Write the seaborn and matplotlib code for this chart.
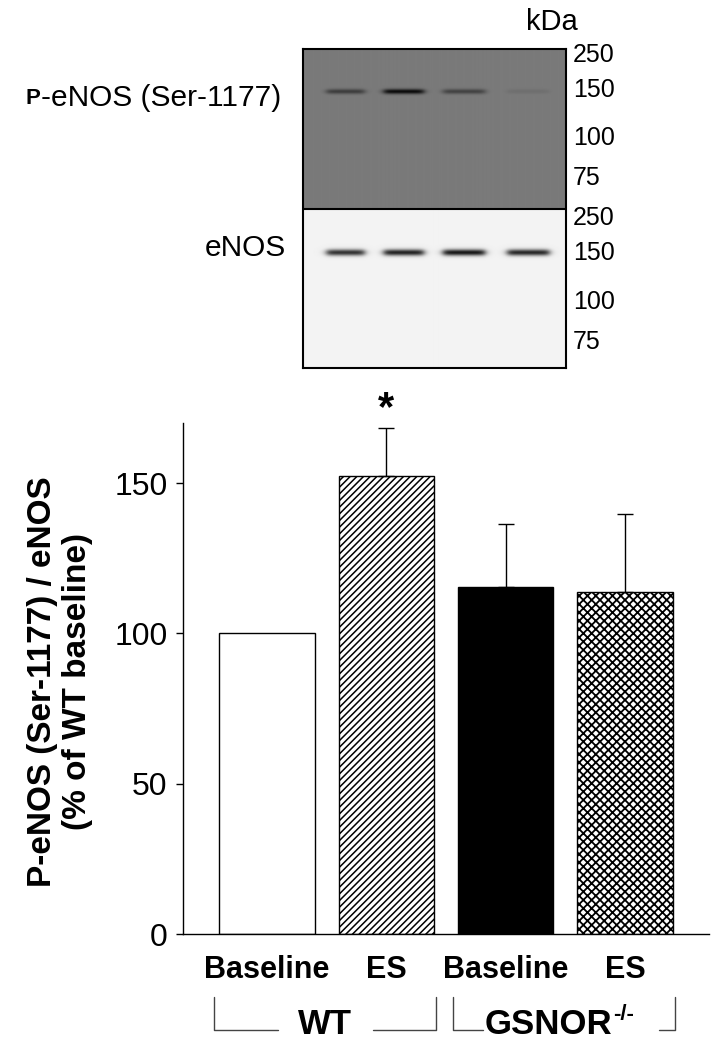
import numpy as np
import pandas as pd
import matplotlib
matplotlib.use("Agg")
import matplotlib.pyplot as plt
import matplotlib.transforms as mtransforms
import seaborn as sns

# -------------------------------------------------------------
# data
# -------------------------------------------------------------
groups = ["WT", "WT", "GSNOR", "GSNOR"]
conditions = ["Baseline", "ES", "Baseline", "ES"]
ratio_pct = [100.0, 152.3, 115.4, 113.7]      # P-eNOS / eNOS, % of WT baseline
sem_pct = [0.0, 16.0, 21.0, 26.0]
significant = [False, True, False, False]
y_ticks = [0, 50, 100, 150]

# western blot: relative band darkness per lane
peNOS_band = [0.55, 1.0, 0.50, 0.10]
eNOS_band = [0.85, 0.92, 0.97, 0.90]
kda_markers = ["250", "150", "100", "75"]

# styling
bar_faces = ["white", "white", "black", "white"]
bar_hatches = ["", "/////", "", "xxxx"]
hatch_lw = [1.1, 1.1, 1.0, 1.3]

W, H = 718, 1050
def fx(x):
    return x / W
def fy(y):
    return 1 - y / H

sns.set_style("ticks")
plt.rcParams["font.family"] = ["Liberation Sans", "DejaVu Sans"]
plt.rcParams["text.color"] = "black"
plt.rcParams["axes.labelcolor"] = "black"
plt.rcParams["xtick.color"] = "black"
plt.rcParams["ytick.color"] = "black"
plt.rcParams["hatch.linewidth"] = 1.0

fig = plt.figure(figsize=(W / 100, H / 100), dpi=100)

# =============================================================
# bar chart
# =============================================================
ax = fig.add_axes([fx(183), fy(934), fx(709) - fx(183), (934 - 423) / H])

df = pd.DataFrame({"group": groups, "condition": conditions,
                   "ratio": ratio_pct, "sem": sem_pct})
df["key"] = df["group"] + " " + df["condition"]

sns.barplot(data=df, x="key", y="ratio", order=list(df["key"]),
            color="white", edgecolor="black", linewidth=1.0,
            width=0.8, errorbar=None, ax=ax)

for patch, fc, h, hl in zip(ax.patches, bar_faces, bar_hatches, hatch_lw):
    patch.set_facecolor(fc)
    patch.set_hatch(h)
    patch.set_edgecolor("black")
    if hasattr(patch, "set_hatch_linewidth"):
        patch.set_hatch_linewidth(hl)

xpos = np.arange(len(df))
has_err = df["sem"] > 0
ax.errorbar(xpos[has_err], df["ratio"][has_err],
            yerr=[np.zeros(has_err.sum()), df["sem"][has_err]],
            fmt="none", ecolor="black", elinewidth=1.0, capsize=6, capthick=1.0)

for i, sig in enumerate(significant):
    if sig:
        ax.annotate("*", (xpos[i], df["ratio"][i] + df["sem"][i]),
                    xytext=(0, -1), textcoords="offset points",
                    ha="center", va="bottom", fontsize=30, fontweight="bold",
                    annotation_clip=False)

ax.set_xlim(-0.704, 3.705)
ax.set_ylim(0, 170)
ax.set_yticks(y_ticks)
ax.set_xticks(xpos)
ax.set_xticklabels(df["condition"], fontsize=22, fontweight="bold")
ax.tick_params(axis="x", length=0, pad=15)
ax.tick_params(axis="y", length=5, width=1.0, labelsize=23, pad=6)
ax.set_xlabel("")
ax.set_ylabel("P-eNOS (Ser-1177) / eNOS\n(% of WT baseline)",
              fontsize=24, fontweight="bold", linespacing=1.15)
ax.yaxis.set_label_coords(fx(93), fy(682), transform=fig.transFigure)
sns.despine(ax=ax)
for s in ["left", "bottom"]:
    ax.spines[s].set_linewidth(1.0)
    ax.spines[s].set_color("black")

# group brackets under the tick labels
trans = mtransforms.blended_transform_factory(ax.transData, fig.transFigure)
y_top, y_bot, y_txt = fy(997), fy(1030), fy(1025)
bracket_specs = [("WT", "", 0, 1, 0.40, 0.40, 0.0),
                 ("GSNOR", "-/-", 2, 3, 0.68, 0.80, -0.13)]
fig.canvas.draw()
renderer = fig.canvas.get_renderer()
for name, sup, i0, i1, gap_l, gap_r, shift in bracket_specs:
    x0 = xpos[i0] - 0.44
    x1 = xpos[i1] + 0.42
    xc = (x0 + x1) / 2
    ax.plot([x0, x0, xc - gap_l], [y_top, y_bot, y_bot], color="#444444",
            lw=1.0, transform=trans, clip_on=False)
    ax.plot([xc + gap_r, x1, x1], [y_bot, y_bot, y_top], color="#444444",
            lw=1.0, transform=trans, clip_on=False)
    t = ax.text(xc + shift, y_txt, name, transform=trans, ha="center",
                va="center", fontsize=25, fontweight="bold")
    if sup:
        bb = t.get_window_extent(renderer=renderer)
        fig.text(bb.x1 / W + 0.001, fy(1014), sup, ha="left", va="center",
                 fontsize=16, fontweight="bold")

# =============================================================
# western blot panel
# =============================================================
bw, bh = 263, 319
bax = fig.add_axes([fx(303), fy(368), bw / W, bh / H])
yy, xx = np.mgrid[0:bh, 0:bw]
split = 160
img = np.where(yy < split, 0.48, 0.95).astype(float)

lane_x = [42, 100, 160, 224]
lane_hw = [19, 20, 21, 21]

def add_bands(img, levels, cy, sy, strength):
    for cx, hw, lev in zip(lane_x, lane_hw, levels):
        px = 1 / (1 + np.exp((np.abs(xx - cx) - hw) / 2.0))
        py = np.exp(-0.5 * ((yy - cy) / sy) ** 2)
        img = img * (1 - strength * lev * px * py)
    return img

img = add_bands(img, peNOS_band, 42, 1.8, 0.9)
img = add_bands(img, eNOS_band, 203, 2.3, 0.92)

bax.imshow(img, cmap="gray", vmin=0, vmax=1, extent=(0, bw, bh, 0),
           aspect="auto", interpolation="bilinear")
bax.axhline(split, color="black", lw=1.5)
bax.set_xlim(0, bw)
bax.set_ylim(bh, 0)
bax.set_xticks([])
bax.set_yticks([])
for s in bax.spines.values():
    s.set_visible(True)
    s.set_linewidth(1.5)
    s.set_color("black")

marker_y = [55, 90, 138, 178, 218, 253, 302, 342]
for lab, y in zip(kda_markers * 2, marker_y):
    fig.text(fx(573), fy(y), lab, ha="left", va="center", fontsize=18)
fig.text(fx(552), fy(22), "kDa", ha="center", va="center", fontsize=21)

t1 = fig.text(fx(281), fy(98), "-eNOS (Ser-1177)", ha="right", va="center",
              fontsize=21.5)
fig.canvas.draw()
bb = t1.get_window_extent(renderer=fig.canvas.get_renderer())
fig.text(bb.x0 / W, fy(99), "P", ha="right", va="center", fontsize=16,
         fontweight="bold")
fig.text(fx(286), fy(248), "eNOS", ha="right", va="center", fontsize=21.5)

fig.savefig("out.png", dpi=100)
